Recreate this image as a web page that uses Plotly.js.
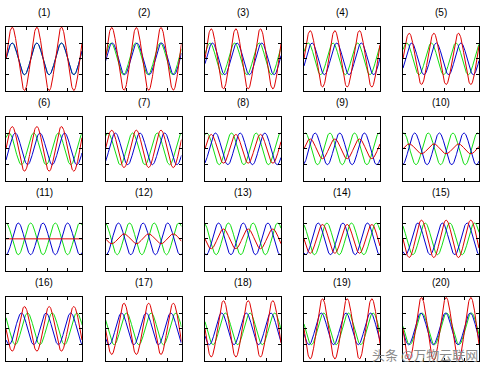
<!DOCTYPE html>
<html>
<head>
<meta charset="utf-8">
<script src="https://cdn.plot.ly/plotly-3.0.1.min.js"></script>
<style>html,body{margin:0;padding:0;background:#fff;}#chart{width:486px;height:368px;}</style>
</head>
<body>
<div id="chart"></div>
<script>
// Panel titles
const panelTitles = ['(1)','(2)','(3)','(4)','(5)','(6)','(7)','(8)','(9)','(10)',
                     '(11)','(12)','(13)','(14)','(15)','(16)','(17)','(18)','(19)','(20)'];
// Sinusoid parameters (amplitude, phase in degrees at x = 0)
const blueAmp    = [1,1,1,1,1,1,1,1,1,1,1,1,1,1,1,1,1,1,1,1];
const bluePhase  = [0,-9,-18,-27,-36,-45,-54,-63,-72,-81,-90,-99,-108,-117,-126,-135,-144,-153,-162,-171];
const greenAmp   = [1,1,1,1,1,1,1,1,1,1,1,1,1,1,1,1,1,1,1,1];
const greenPhase = [0,9,18,27,36,45,54,63,72,81,90,99,108,117,126,135,144,153,162,171];
const redAmp     = [2.0,1.98,1.9,1.78,1.62,1.41,1.18,0.91,0.62,0.31,0.0,0.31,0.62,0.91,1.18,1.41,1.62,1.78,1.9,1.98];
const redPhase   = [0,0,0,0,0,0,0,0,0,0,0,180,180,180,180,180,180,180,180,180];
// Horizontal axis (degrees) and tick positions
const xStart = 0, xEnd = 1110, xStep = 5;
const xTicks = [300, 600, 900];
const yTicks = [-1, 0, 1];
const watermark = '头条 @万物云联网';

const W = 486, H = 368;
const colLeft = [6, 105.5, 205, 304, 403];
const boxW = 76, boxH = 64.3;
const rowTop = [26.7, 116.7, 206.7, 296.7];

const xs = [];
for (let t = xStart; t <= xEnd + 1e-9; t += xStep) xs.push(t);
function wave(A, ph) { return xs.map(t => A * Math.sin((t + ph) * Math.PI / 180)); }

const traces = [];
const layout = {
  width: W, height: H, margin: {l:0, r:0, t:0, b:0},
  paper_bgcolor: '#fff', plot_bgcolor: '#fff', showlegend: false,
  annotations: [], font: {family: 'Liberation Sans, Arial, sans-serif'}
};
for (let i = 0; i < 20; i++) {
  const r = Math.floor(i / 5), c = i % 5;
  const n = i + 1;
  const xa = 'x' + (n === 1 ? '' : n), ya = 'y' + (n === 1 ? '' : n);
  traces.push({x: xs, y: wave(greenAmp[i], greenPhase[i]), xaxis: xa, yaxis: ya, mode: 'lines', line: {color: '#11dd11', width: 1}, hoverinfo: 'skip'});
  traces.push({x: xs, y: wave(blueAmp[i], bluePhase[i]), xaxis: xa, yaxis: ya, mode: 'lines', line: {color: '#0000d0', width: 1}, hoverinfo: 'skip'});
  traces.push({x: xs, y: wave(redAmp[i], redPhase[i]), xaxis: xa, yaxis: ya, mode: 'lines', line: {color: '#dd0000', width: 1}, hoverinfo: 'skip'});
  const x0 = colLeft[c] / W, x1 = (colLeft[c] + boxW) / W;
  const y1 = 1 - rowTop[r] / H, y0 = 1 - (rowTop[r] + boxH) / H;
  const axBase = {showline: true, linecolor: '#000', linewidth: 1, mirror: 'ticks', ticks: 'inside', ticklen: 3, tickcolor: '#000', tickwidth: 1,
                  showticklabels: false, showgrid: false, zeroline: false, fixedrange: true};
  layout['xaxis' + (n === 1 ? '' : n)] = Object.assign({}, axBase, {domain: [x0, x1], range: [xStart, xEnd], tickvals: xTicks, anchor: ya});
  layout['yaxis' + (n === 1 ? '' : n)] = Object.assign({}, axBase, {domain: [y0, y1], range: [-2.03, 2.03], tickvals: yTicks, anchor: xa});
  layout.annotations.push({text: panelTitles[i], xref: 'paper', yref: 'paper', x: (x0 + x1) / 2, y: 1 - (rowTop[r] - 14) / H,
    xanchor: 'center', yanchor: 'middle', showarrow: false, font: {size: 10, color: '#000', family: 'Liberation Sans, Arial, sans-serif'}});
}
layout.annotations.push({text: watermark, xref: 'paper', yref: 'paper', x: 1 - 6 / W, y: 1 - 354 / H, xanchor: 'right', yanchor: 'middle',
  showarrow: false, font: {size: 13, color: '#8a8a8a', family: 'Noto Sans CJK SC, sans-serif'}});
Plotly.newPlot('chart', traces, layout, {staticPlot: true});
</script>
</body>
</html>
